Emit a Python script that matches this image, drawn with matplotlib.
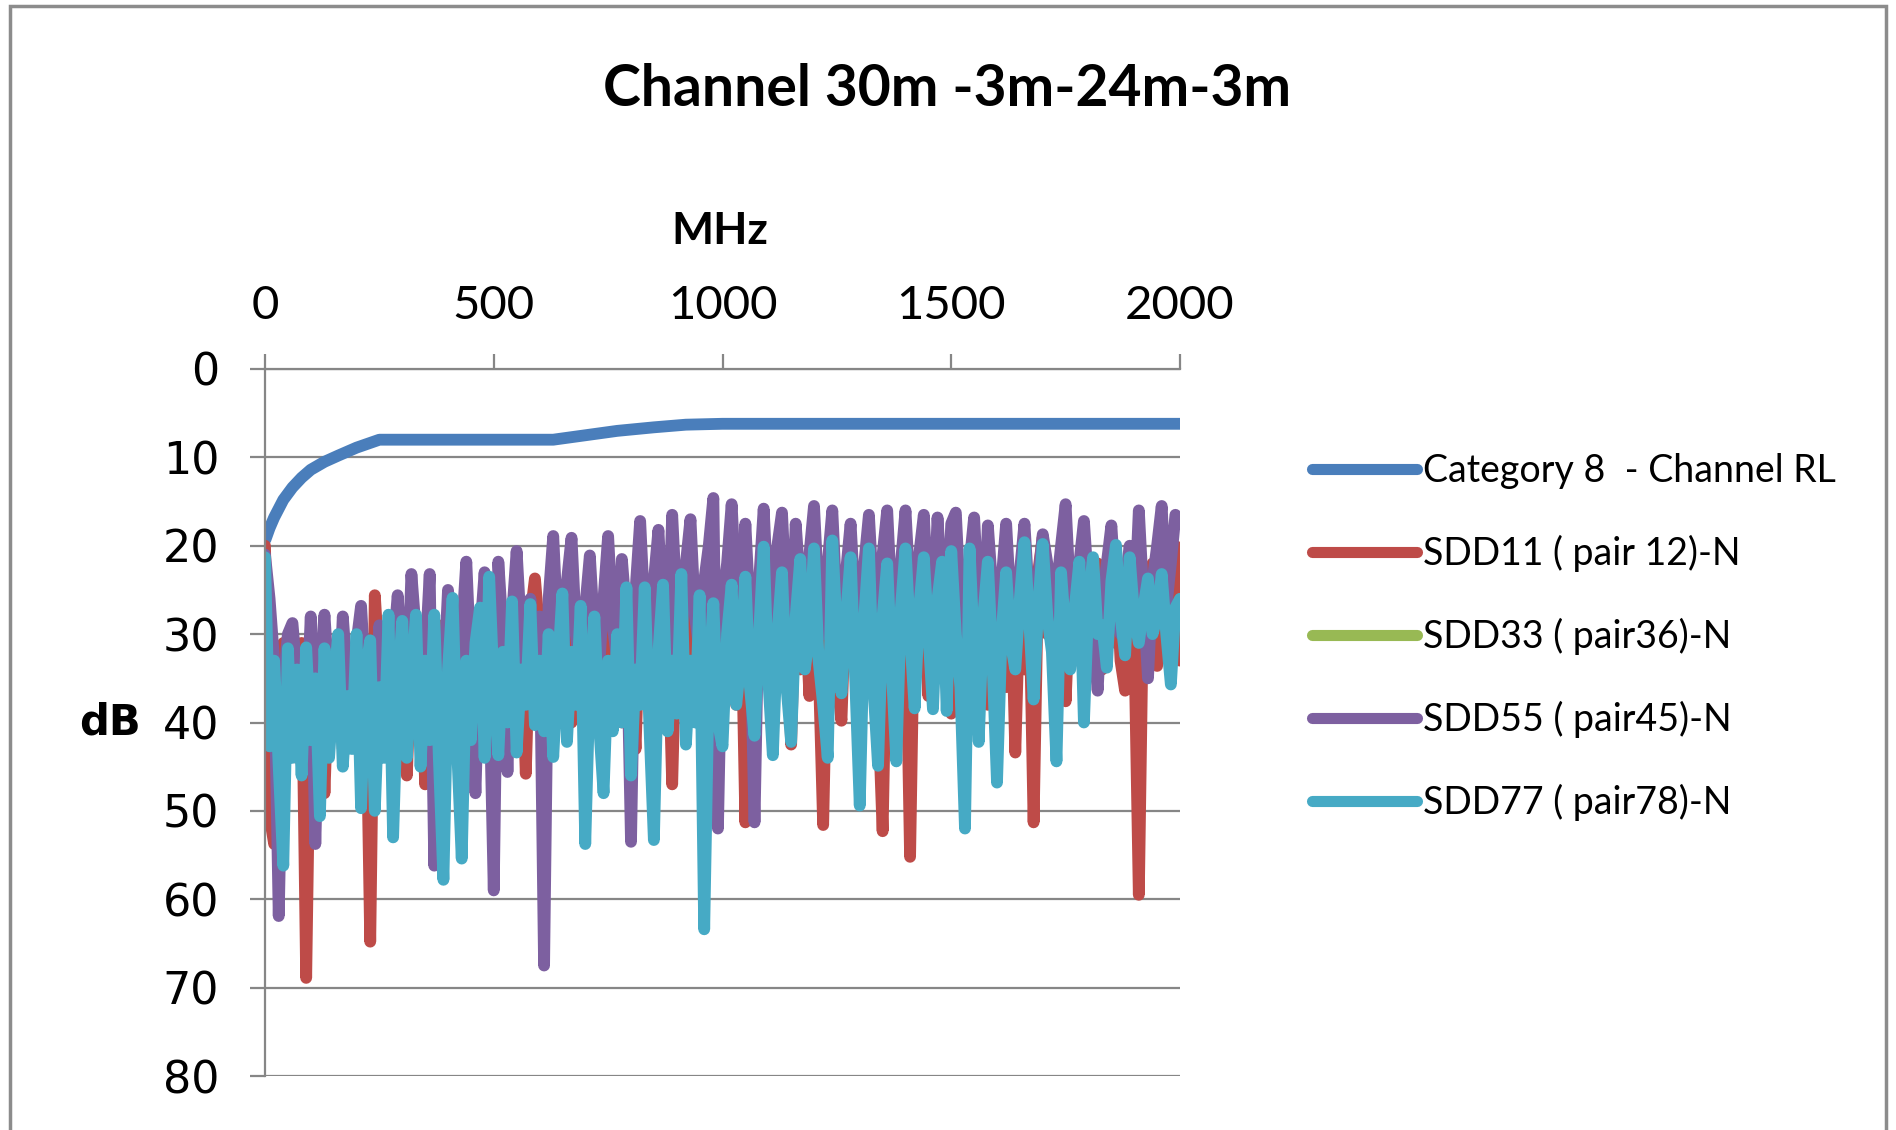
import numpy as np
import matplotlib
matplotlib.use("Agg")
import matplotlib.pyplot as plt
from matplotlib.patches import Rectangle

# ---- data (dB) ----
title = "Channel 30m -3m-24m-3m"
labels = ["Category 8  - Channel RL", "SDD11 ( pair 12)-N", "SDD33 ( pair36)-N",
          "SDD55 ( pair45)-N", "SDD77 ( pair78)-N"]

# Cat 8 channel RL limit
rl_freq = [1, 10, 20, 40, 60, 80, 100, 130, 160, 200, 250, 400, 630, 700, 770, 850, 920, 1000, 1500, 2000]
rl_db = [19.3, 18.0, 16.8, 14.8, 13.4, 12.3, 11.4, 10.5, 9.8, 8.9, 8.0, 8.0, 8.0, 7.5, 7.0, 6.6, 6.3, 6.2, 6.2, 6.2]

# sweep: 0..2000 MHz, 10 MHz step
f_start = 0
f_step = 10

sdd11 = [
    20, 50.6, 53.75, 35, 31, 40, 33, 44, 31, 68.9,
    34, 42, 31, 48, 33, 40, 31, 43, 32, 40,
    31, 44, 33, 64.8, 25.6, 34, 42, 30, 40, 33,
    30, 46, 32, 38, 29, 47, 31, 40, 29, 42,
    30, 38, 28, 44, 30, 45.5, 28, 38, 30, 42,
    29, 40, 27, 36, 29, 41, 30, 45.8, 28, 23.7,
    30, 38, 28, 42, 27, 36, 29, 40, 27, 35,
    28, 40, 27, 36, 26, 38, 28, 34, 40, 27,
    33, 43, 26, 35, 28, 38, 26, 34, 28, 47,
    27, 34, 26, 37, 27, 33, 25, 38, 27, 35,
    25, 34, 27, 38, 24, 51.3, 26, 36, 25, 33,
    27, 38, 24, 35, 26, 42.5, 24, 34, 26, 37,
    24, 33, 51.6, 27, 23, 35, 39.8, 25, 33, 24,
    36, 25, 34, 23, 38, 52.3, 25, 33, 24, 36,
    26, 55.2, 24, 34, 25, 37, 24, 33, 25, 36,
    39, 24, 33, 26, 37, 23, 34, 25, 38, 24,
    33, 26, 36, 23, 43.4, 25, 34, 24, 51.3, 23,
    19, 30, 24, 36, 23, 37.6, 25, 33, 22, 35,
    24, 32, 22, 34, 25, 31, 22, 33, 36.4, 23,
    30, 59.5, 24, 31, 22, 33.6, 23, 30, 21, 20,
    33,
]

sdd33 = []  # listed in the legend, no trace visible

sdd55 = [
    21, 26, 33, 61.9, 36, 30, 28.75, 35, 32, 40,
    28, 53.75, 34, 27.8, 36, 33, 40, 28, 35, 38,
    31, 26.8, 36, 32, 38, 29, 35, 40, 32, 25.6,
    34, 38, 23.2, 30, 40, 33, 23.2, 56.2, 33, 36,
    25, 32, 38, 30, 21.8, 34, 48, 30, 23, 35,
    59, 21.8, 30, 45.6, 28, 20.6, 30, 36, 26, 33,
    28, 67.5, 26, 18.9, 30, 35, 24, 19.1, 30, 36,
    27, 21.1, 30, 34, 26, 18.9, 29, 33, 21.5, 28,
    53.5, 25, 17.2, 28, 32, 24, 18.2, 29, 33, 16.5,
    27, 31, 22, 17, 28, 32, 24, 20, 14.6, 52,
    26, 22, 15.3, 26, 30, 17.5, 28, 51.3, 24, 15.8,
    27, 30, 20, 16.25, 27, 31, 17.5, 25, 29, 21,
    15.5, 26, 30, 22, 16, 27, 31, 23, 17.5, 27,
    30, 22, 16.5, 26, 30, 21, 16, 27, 31, 22,
    16, 26, 30, 21, 16.5, 27, 30, 16.8, 26, 29,
    17.5, 16.25, 27, 30, 22, 16.8, 27, 31, 17.7, 25,
    30, 24, 17.5, 27, 31, 23, 17.5, 26, 30, 24,
    18.7, 22, 28, 25, 20, 15.3, 26, 30, 22, 17.2,
    25, 30, 36.4, 26, 22, 17.7, 26, 30, 24, 20,
    28, 16, 26, 35, 24, 20, 15.5, 27, 22, 16.5,
    17.5,
]

sdd77 = [
    21.3, 42.7, 33, 45, 56.2, 31.6, 44, 34, 46, 31.5,
    42, 35, 50.6, 31.6, 44, 36, 30, 45, 37, 43,
    30, 49.7, 34, 30.7, 50, 36, 44, 27.8, 53, 36,
    28.5, 44, 35, 27.8, 45, 33, 42, 27.8, 44, 57.8,
    34, 25.9, 43, 55.4, 33, 42, 31, 27, 44, 23.5,
    36, 43.7, 32, 40, 26.3, 43.4, 34, 38, 26.6, 40.3,
    33, 41, 30, 43.9, 34, 25.4, 42.2, 32, 38, 26.8,
    53.75, 35, 28, 40, 48, 33, 41, 30, 40, 24.7,
    46, 34, 38, 24.7, 40, 53.3, 32, 24.4, 41, 33,
    39, 23.2, 42.5, 33, 40, 25.6, 63.4, 35, 26.5, 40,
    42.7, 30, 24.4, 38, 33, 23.5, 36, 41.5, 30, 20.1,
    35, 43.7, 30, 23, 36, 42.2, 28, 21.5, 34, 30,
    20.3, 33, 38, 44, 19.4, 30, 36.7, 28, 21.3, 35,
    49.4, 28, 20.3, 36, 44.9, 28, 22, 34, 44.4, 27,
    20.3, 30, 38.4, 27, 21.3, 30, 38.5, 26, 21.8, 38.7,
    20.6, 30, 36, 52, 20.3, 32, 42.2, 28, 21.8, 33,
    46.8, 30, 23, 31, 34, 26, 19.6, 28, 37.4, 27,
    19.8, 28, 32, 44.4, 23, 30, 34, 27, 21.8, 40,
    26, 21.3, 30, 29, 33.8, 24, 19.9, 28, 32.4, 21.3,
    28, 31, 27, 23.7, 30, 28, 23.2, 30, 35.7, 27,
    26,
]

colors = ["#4a7ebb", "#be4b48", "#98b954", "#7d60a0", "#46aac5"]

W, H = 1896, 1130
fig = plt.figure(figsize=(W / 100, H / 100), dpi=100)

# chart area border
fig.patches.append(Rectangle((10 / W, -0.05), 1876 / W, 1.05 - 6 / H, transform=fig.transFigure,
                             fill=False, edgecolor="#8c8c8c", linewidth=2.5))

ax = fig.add_axes([265 / W, 1 - 1076 / H, 915 / W, 707 / H])

series = [sdd11, sdd33, sdd55, sdd77]
lw = 8.5
ax.plot(rl_freq, rl_db, color=colors[0], lw=lw, label=labels[0],
        solid_capstyle="round", solid_joinstyle="round")
for vals, c, lab in zip(series, colors[1:], labels[1:]):
    fr = f_start + f_step * np.arange(len(vals))
    ax.plot(fr, vals, color=c, lw=lw, label=lab,
            solid_capstyle="round", solid_joinstyle="round")

gray = "#868686"
ax.set_xlim(0, 2000)
ax.set_ylim(80, 0)
ax.set_xticks([0, 500, 1000, 1500, 2000])
ax.set_yticks(range(0, 81, 10))
ax.xaxis.tick_top()
ax.yaxis.grid(True, color=gray, lw=1.6)
ax.set_axisbelow(True)
for s in ["right", "bottom"]:
    ax.spines[s].set_visible(False)
for s in ["top", "left"]:
    ax.spines[s].set_color(gray)
    ax.spines[s].set_linewidth(1.6)
ax.tick_params(axis="both", direction="out", length=11, width=1.6, color=gray)
ax.tick_params(axis="x", pad=19)
ax.tick_params(axis="y", pad=22)
for t in ax.get_xticklabels():
    t.set_fontfamily("Lato")
    t.set_fontsize(34)
for t in ax.get_yticklabels():
    t.set_fontfamily("DejaVu Sans")
    t.set_fontsize(32)

ax.set_ylabel("dB", rotation=0, fontsize=30, fontweight="bold", family="DejaVu Sans",
              ha="center", va="center")
ax.yaxis.set_label_coords((110 - 265) / 915, 0.5)

fig.text(720 / W, 1 - 231 / H, "MHz", fontsize=32, fontweight="bold", family="Lato",
         ha="center", va="center")
fig.text(947 / W, 1 - 89 / H, title, fontsize=41, fontweight="bold", family="Lato",
         ha="center", va="center")

leg = fig.legend(loc="upper left", bbox_to_anchor=(1312 / W, 1 - 453 / H), frameon=False,
                 prop={"family": "Lato", "size": 27}, handlelength=2.8, handletextpad=0.16,
                 labelspacing=1.22, borderpad=0, borderaxespad=0)
for ln in leg.get_lines():
    ln.set_linewidth(8)
    ln.set_solid_capstyle("round")

fig.savefig("out.png", dpi=100)
